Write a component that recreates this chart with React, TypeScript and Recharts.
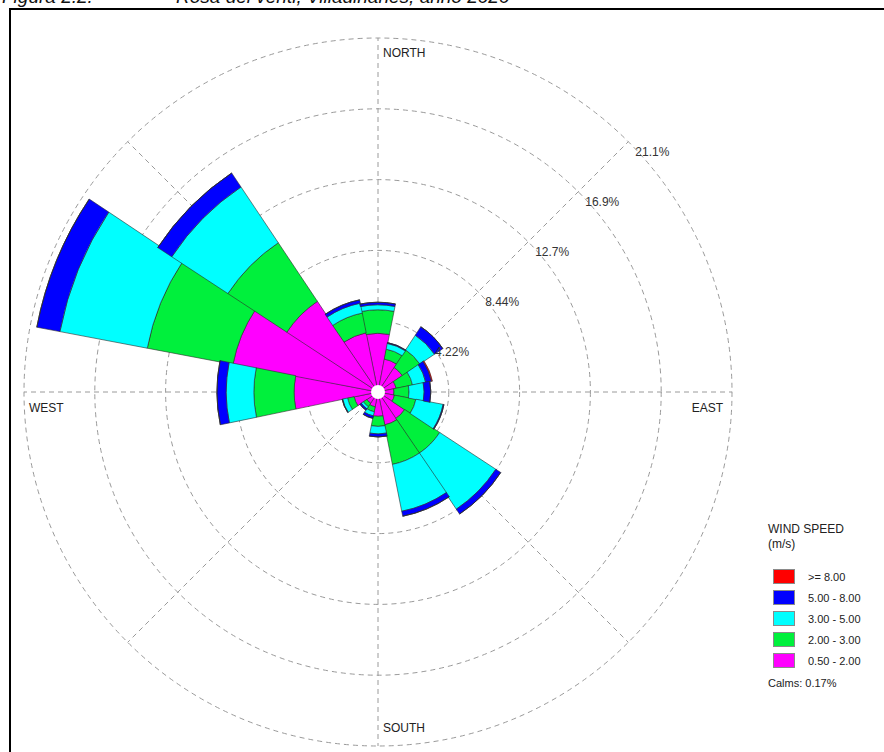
import React from "react";
import {
  RadialBarChart,
  RadialBar,
  PolarGrid,
  PolarAngleAxis,
  PolarRadiusAxis,
} from "recharts";

// settori di provenienza (16 direzioni, in senso orario da nord)
const DIRECTIONS = ["N", "NNE", "NE", "ENE", "E", "ESE", "SE", "SSE", "S", "SSW", "SW", "WSW", "W", "WNW", "NW", "NNW"];

// frequenze (%) per classe di velocità, una voce per direzione
const SPEED_050_200 = [3.5, 2.0, 1.75, 1.1, 0.95, 1.0, 1.9, 2.0, 1.45, 0.9, 0.8, 1.45, 5.0, 8.8, 6.5, 3.6];
const SPEED_200_300 = [1.4, 0.6, 1.25, 1.0, 0.9, 1.3, 2.5, 2.4, 0.6, 0.3, 0.25, 0.4, 2.4, 5.2, 4.2, 1.2];
const SPEED_300_500 = [0.3, 0.35, 1.05, 0.8, 0.9, 1.65, 4.0, 2.85, 0.45, 0.25, 0.15, 0.3, 1.65, 5.3, 4.0, 0.6];
const SPEED_500_800 = [0.15, 0.05, 0.6, 0.35, 0.4, 0.05, 0.35, 0.3, 0.18, 0.15, 0.1, 0.03, 0.55, 1.4, 1.0, 0.2];
const SPEED_OVER_800 = [0, 0, 0, 0.06, 0, 0, 0, 0, 0, 0, 0, 0, 0, 0, 0, 0];

const RING_TICKS = [4.22, 8.44, 12.66, 16.88, 21.1];
const RADIUS_MAX = 21.1;
const CALMS = "0.17%";

const COMPASS_LABELS: Record<string, string> = { N: "NORTH", E: "EAST", S: "SOUTH", W: "WEST" };

const SPEED_CLASSES = [
  { key: "s1", label: "0.50 - 2.00", color: "#ff00ff", values: SPEED_050_200 },
  { key: "s2", label: "2.00 - 3.00", color: "#00f03c", values: SPEED_200_300 },
  { key: "s3", label: "3.00 - 5.00", color: "#00ffff", values: SPEED_300_500 },
  { key: "s4", label: "5.00 - 8.00", color: "#0000ff", values: SPEED_500_800 },
  { key: "s5", label: ">= 8.00", color: "#ff0000", values: SPEED_OVER_800 },
];

const data = DIRECTIONS.map((dir, i) => {
  const row: any = { dir };
  SPEED_CLASSES.forEach((c) => (row[c.key] = c.values[i]));
  return row;
});

const CX = 378;
const CY = 392;
const R = 354;
const FONT = "'Liberation Sans', Arial, Helvetica, sans-serif";

function RingTick(props: any) {
  const { x, y, payload } = props;
  const v = payload.value;
  const txt = v < 10 ? v.toFixed(2) : v.toFixed(1);
  return (
    <text x={x + 7} y={y + 14} fontSize={12} fill="#333" fontFamily={FONT} textAnchor="start">
      {txt}%
    </text>
  );
}

function CompassTick(props: any) {
  const { payload } = props;
  const name = COMPASS_LABELS[payload.value];
  if (!name) return null;
  const cx = props.cx ?? CX;
  const cy = props.cy ?? CY;
  const r = props.radius ?? R;
  let x = cx, y = cy, anchor = "start";
  if (payload.value === "N") { x = cx + 5; y = cy - r + 19; }
  if (payload.value === "S") { x = cx + 5; y = cy + r - 14; }
  if (payload.value === "E") { x = cx + r - 9; y = cy + 20; anchor = "end"; }
  if (payload.value === "W") { x = cx - r + 5; y = cy + 20; }
  return (
    <text x={x} y={y} fontSize={12} fill="#222" fontFamily={FONT} textAnchor={anchor}>
      {name}
    </text>
  );
}

function Legend() {
  return (
    <div style={{ position: "absolute", left: 768, top: 522, fontFamily: FONT, color: "#222" }}>
      <div style={{ fontSize: 12, lineHeight: "15px" }}>WIND SPEED</div>
      <div style={{ fontSize: 12, lineHeight: "15px" }}>(m/s)</div>
      <div style={{ marginTop: 14 }}>
        {[...SPEED_CLASSES].reverse().map((c) => (
          <div key={c.key} style={{ display: "flex", alignItems: "center", height: 21 }}>
            <div
              style={{
                width: 22,
                height: 15,
                marginLeft: 5,
                background: c.color,
                border: "1px solid #8a8a8a",
                boxSizing: "border-box",
              }}
            />
            <span style={{ fontSize: 11, marginLeft: 13 }}>{c.label}</span>
          </div>
        ))}
      </div>
      <div style={{ fontSize: 11, marginTop: 6 }}>Calms: {CALMS}</div>
    </div>
  );
}

const titleStyle: React.CSSProperties = {
  position: "absolute",
  top: -14,
  fontFamily: FONT,
  fontStyle: "italic",
  fontSize: 19,
  lineHeight: "22px",
  whiteSpace: "pre",
  color: "#111",
};

export default function App() {
  return (
    <div style={{ position: "absolute", left: 0, top: 0, width: 884, height: 752, background: "#fff", overflow: "hidden" }}>
      <div style={{ ...titleStyle, left: 2 }}>Figura 2.2.</div>
      <div style={{ ...titleStyle, left: 176 }}>Rosa dei venti, Villadinanes, anno 2020</div>
      <div
        style={{
          position: "absolute",
          left: 9,
          top: 8,
          width: 900,
          height: 800,
          borderLeft: "2px solid #000",
          borderTop: "2px solid #000",
        }}
      />
      <div style={{ position: "absolute", left: 0, top: 0 }}>
        <RadialBarChart
          width={884}
          height={752}
          cx={CX}
          cy={CY}
          innerRadius={0}
          outerRadius={R}
          data={data}
          layout="centric"
          startAngle={78.75}
          endAngle={-281.25}
          barCategoryGap={0}
          barGap={0}
          margin={{ top: 0, right: 0, bottom: 0, left: 0 }}
        >
          <PolarGrid
            gridType="circle"
            polarAngles={[90, 45, 0, -45, -90, -135, 180, 135]}
            stroke="#9a9a9a"
            strokeDasharray="5 4"
          />
          <PolarAngleAxis dataKey="dir" type="category" axisLine={false} tickLine={false} tick={<CompassTick />} />
          <PolarRadiusAxis
            type="number"
            domain={[0, RADIUS_MAX]}
            ticks={RING_TICKS}
            angle={45}
            axisLine={false}
            tickLine={false}
            tick={<RingTick />}
          />
          {SPEED_CLASSES.map((c) => (
            <RadialBar
              key={c.key}
              dataKey={c.key}
              stackId="v"
              fill={c.color}
              stroke="#2c2c2c"
              strokeWidth={0.6}
              isAnimationActive={false}
            />
          ))}
        </RadialBarChart>
      </div>
      <svg style={{ position: "absolute", left: 0, top: 0 }} width={884} height={752} pointerEvents="none">
        <circle cx={CX} cy={CY} r={7} fill="#fff" />
      </svg>
      <Legend />
    </div>
  );
}
